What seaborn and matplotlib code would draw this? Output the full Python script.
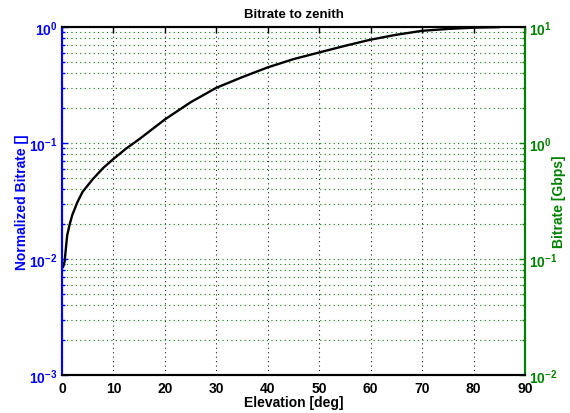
import matplotlib
matplotlib.use("Agg")
import matplotlib.pyplot as plt
import seaborn as sns
import numpy as np
import pandas as pd
from matplotlib.ticker import LogLocator, NullFormatter

elevation = [0.2, 0.5, 1, 1.5, 2, 3, 4, 6, 8, 10, 12.5, 15, 20, 25, 30, 35, 40, 45, 50, 55, 60, 65, 70, 75, 80, 85]
norm_bitrate = [0.0085, 0.0095, 0.016, 0.02, 0.024, 0.031, 0.038, 0.049, 0.061, 0.073, 0.09, 0.108, 0.16, 0.225, 0.30, 0.37,
                0.45, 0.53, 0.605, 0.69, 0.78, 0.86, 0.93, 0.965, 0.99, 1.0]
x_ticks = [0, 10, 20, 30, 40, 50, 60, 70, 80, 90]
left_ticks = [1e-3, 1e-2, 1e-1, 1e0]
left_labels = ["$10^{-3}$", "$10^{-2}$", "$10^{-1}$", "$10^{0}$"]
right_ticks = [1e-2, 1e-1, 1e0, 1e1]
right_labels = ["$10^{-2}$", "$10^{-1}$", "$10^{0}$", "$10^{1}$"]

sns.set_style("white")
plt.rcParams['font.family'] = ['Liberation Sans', 'DejaVu Sans']
plt.rcParams['font.weight'] = 'bold'
plt.rcParams['text.color'] = 'black'
plt.rcParams['axes.labelcolor'] = 'black'
plt.rcParams['xtick.color'] = 'black'
plt.rcParams['mathtext.fontset'] = 'custom'
plt.rcParams['mathtext.rm'] = 'Liberation Sans:bold'
plt.rcParams['mathtext.it'] = 'Liberation Sans:bold'
plt.rcParams['mathtext.bf'] = 'Liberation Sans:bold'
plt.rcParams['mathtext.default'] = 'rm'

BLUE = '#0000ff'
GREEN = '#008000'
FS = 10

df = pd.DataFrame({"Elevation": elevation, "Norm": norm_bitrate})

fig = plt.figure(figsize=(5.7, 4.14), dpi=100)
ax = fig.add_axes([0.1088, 0.0918, 0.8122, 0.8402])
sns.lineplot(data=df, x="Elevation", y="Norm", ax=ax, color='black', linewidth=1.7)
ax.set_yscale('log')
ax.set_xlim(0, 90)
ax.set_ylim(1e-3, 1)
ax.set_xticks(x_ticks)
ax.set_xticklabels([str(t) for t in x_ticks], fontsize=FS, fontweight='bold', color='black')
ax.set_yticks(left_ticks)
ax.set_yticklabels(left_labels, fontsize=FS, color=BLUE)
ax.yaxis.set_minor_locator(LogLocator(base=10, subs=np.arange(2, 10)))
ax.yaxis.set_minor_formatter(NullFormatter())
ax.tick_params(axis='both', which='both', direction='in')
ax.tick_params(axis='x', top=True, length=4, width=1, colors='black', pad=4)
ax.tick_params(axis='y', which='major', length=4, width=1, colors=BLUE, pad=3)
ax.tick_params(axis='y', which='minor', length=2.5, width=1, colors=BLUE)
ax.xaxis.grid(True, color='#222222', linestyle=(0, (1, 3)), linewidth=0.8)
ax.yaxis.grid(False)
ax.set_xlabel("Elevation [deg]", fontsize=FS, fontweight='bold', labelpad=0, color='black')
ax.set_ylabel("Normalized Bitrate []", fontsize=FS, fontweight='bold', color=BLUE, labelpad=0)
ax.set_title("Bitrate to zenith", fontsize=9.5, fontweight='bold', pad=7, color='black')

ax2 = ax.twinx()
ax2.set_yscale('log')
ax2.set_ylim(1e-2, 1e1)
ax2.set_yticks(right_ticks)
ax2.set_yticklabels(right_labels, fontsize=FS, color=GREEN)
ax2.yaxis.set_minor_locator(LogLocator(base=10, subs=np.arange(2, 10)))
ax2.yaxis.set_minor_formatter(NullFormatter())
ax2.tick_params(axis='y', which='both', direction='in', colors=GREEN)
ax2.tick_params(axis='y', which='major', length=4, width=1, pad=3)
ax2.tick_params(axis='y', which='minor', length=2.5, width=1)
ax2.yaxis.grid(True, which='both', color=GREEN, linestyle=(0, (1, 3)), linewidth=0.8)
ax2.set_ylabel("Bitrate [Gbps]", fontsize=FS, fontweight='bold', color=GREEN)
ax2.yaxis.set_label_coords(1.0745, 0.5)
ax2.yaxis.label.set_va('center')
ax2.yaxis.label.set_ha('center')
ax2.set_zorder(ax.get_zorder() - 1)
ax.patch.set_visible(False)
ax2.patch.set_visible(True)
ax2.patch.set_facecolor('white')

for a in (ax, ax2):
    for s in a.spines.values():
        s.set_linewidth(1.5)
        s.set_color('black')
ax.spines['left'].set_color(BLUE)
ax2.spines['left'].set_color(BLUE)
ax.spines['right'].set_color(GREEN)
ax2.spines['right'].set_color(GREEN)

fig.savefig("out.png", dpi=100, facecolor='white')
